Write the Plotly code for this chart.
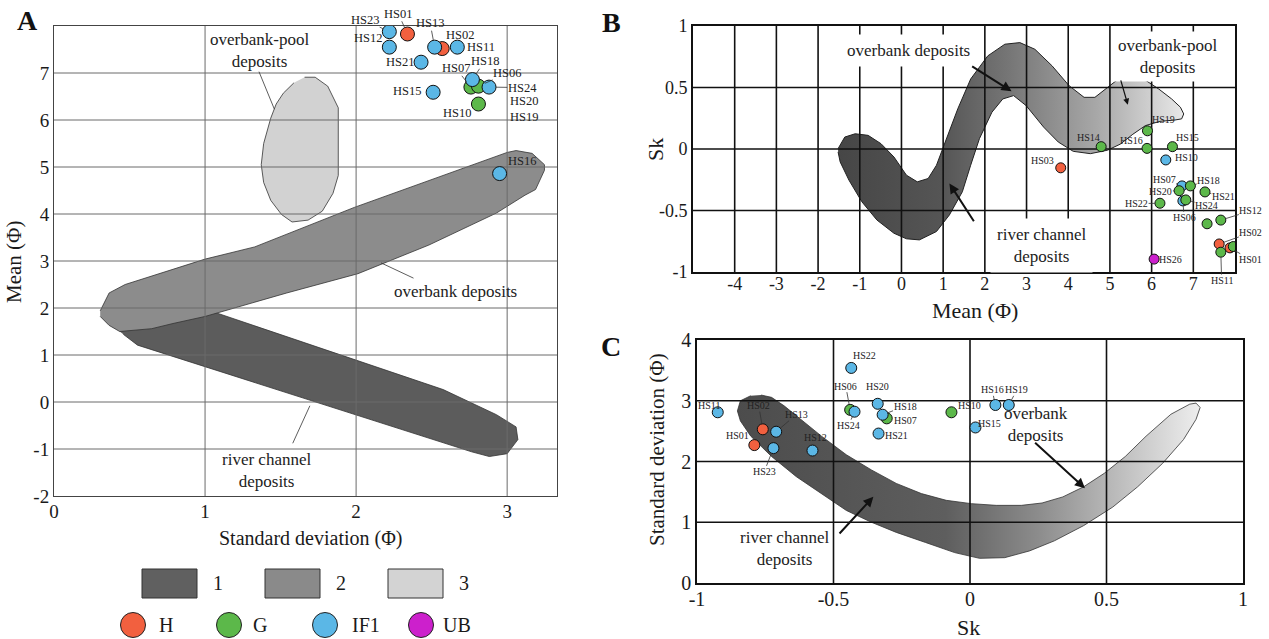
import plotly.graph_objects as go

W, H = 1269, 639
SERIF = "Liberation Serif, Times New Roman, serif"
COLORS = {"H": "#f2603f", "G": "#5cb84a", "IF1": "#5bb7e6", "UB": "#cc20cc"}

# ---------------- Panel A : Standard deviation vs Mean ----------------
A_names = ["HS23", "HS01", "HS12", "HS13", "HS02", "HS11", "HS21", "HS15", "HS07", "HS06", "HS18", "HS24", "HS10", "HS16"]
A_std = [2.22, 2.34, 2.22, 2.52, 2.57, 2.67, 2.43, 2.51, 2.76, 2.81, 2.77, 2.88, 2.81, 2.95]
A_mean = [7.88, 7.83, 7.55, 7.55, 7.52, 7.55, 7.23, 6.59, 6.70, 6.72, 6.86, 6.70, 6.34, 4.86]
A_group = ["IF1", "H", "IF1", "IF1", "H", "IF1", "IF1", "IF1", "G", "G", "IF1", "IF1", "G", "IF1"]
A_lab_x = [2.06, 2.28, 2.08, 2.49, 2.69, 2.83, 2.29, 2.335, 2.66, 3.00, 2.85, 3.10, 2.67, 3.10]
A_lab_y = [8.12, 8.26, 7.74, 8.06, 7.81, 7.55, 7.24, 6.62, 7.10, 6.99, 7.25, 6.69, 6.15, 5.13]
A_leader = [True, True, True, True, False, False, False, False, True, True, True, True, False, False]
A_extra_labels = ["HS20", "HS19"]
A_extra_x = [3.11, 3.11]
A_extra_y = [6.40, 6.06]

A_river_x = [0.435, 1.071, 2.576, 2.929, 3.059, 3.071, 3.0, 2.882, 2.765, 0.553, 0.459]
A_river_y = [1.50, 1.90, 0.265, -0.27, -0.53, -0.80, -1.10, -1.16, -1.06, 1.21, 1.44]
A_over_x = [0.306, 0.365, 0.471, 1.0, 1.329, 1.988, 3.0, 3.059, 3.165, 3.247, 3.247, 3.188, 3.118, 2.929,
            2.482, 2.012, 1.541, 1.0, 0.788, 0.647, 0.435, 0.365, 0.306]
A_over_y = [1.94, 2.32, 2.50, 3.04, 3.30, 4.14, 5.31, 5.35, 5.29, 5.05, 4.93, 4.52, 4.40, 4.02,
            3.34, 2.73, 2.32, 1.82, 1.67, 1.56, 1.50, 1.63, 1.82]
A_pool_x = [1.659, 1.729, 1.812, 1.882, 1.882, 1.847, 1.776, 1.682, 1.576, 1.506, 1.435, 1.388, 1.372,
            1.388, 1.435, 1.471, 1.518, 1.588]
A_pool_y = [6.91, 6.91, 6.72, 6.26, 4.82, 4.44, 4.06, 3.87, 3.83, 3.99, 4.29, 4.67, 5.05,
            5.50, 6.04, 6.34, 6.57, 6.79]
A_xticks = [0, 1, 2, 3]
A_yticks = [-2, -1, 0, 1, 2, 3, 4, 5, 6, 7]
A_xrange = [0, 3.33]
A_yrange = [-2, 8]

# ---------------- Panel B : Mean vs Sk ----------------
B_names = ["HS19", "HS14", "HS16", "HS15", "HS10", "HS03", "HS07", "HS18", "HS20", "HS21", "HS06", "HS24",
           "HS22", "HS12", "HS13", "HS02", "HS23", "HS01", "HS11", "HS26"]
B_mean = [5.90, 4.79, 5.89, 6.50, 6.34, 3.82, 6.73, 6.93, 6.66, 7.28, 6.75, 6.82,
          6.20, 7.66, 7.33, 7.62, 7.96, 7.88, 7.66, 6.06]
B_sk = [0.148, 0.019, 0.005, 0.019, -0.089, -0.153, -0.30, -0.30, -0.339, -0.349, -0.422, -0.414,
        -0.441, -0.578, -0.608, -0.772, -0.793, -0.804, -0.839, -0.895]
B_group = ["G", "G", "G", "G", "IF1", "H", "IF1", "G", "G", "G", "IF1", "G",
           "G", "G", "G", "H", "G", "H", "G", "UB"]
B_lab_x = [6.28, 4.49, 5.52, 6.85, 6.83, 3.39, 6.30, 7.37, 6.22, 7.72, 6.78, 7.32,
           5.64, 8.38, 8.30, 8.38, 8.32, 8.38, 7.68, 6.46]
B_lab_y = [0.237, 0.094, 0.067, 0.094, -0.067, -0.094, -0.247, -0.255, -0.344, -0.390, -0.559, -0.457,
           -0.444, -0.503, -0.597, -0.680, -0.774, -0.90, -1.07, -0.90]
B_leader = [False, False, False, False, False, False, True, True, True, True, True, True,
            True, True, False, True, False, True, True, False]

B_shape_x = [-1.52, -1.36, -1.11, -0.80, -0.49, -0.18, 0.12, 0.38, 0.64, 0.84, 1.05, 1.35, 1.66, 2.07,
             2.48, 2.84, 3.20, 3.61, 4.02, 4.38, 4.64, 4.89, 5.15, 5.51, 5.87, 6.17, 6.48, 6.69, 6.77,
             6.72, 6.55, 6.20, 5.85, 5.55, 5.25, 4.94, 4.53, 4.12, 3.76, 3.41, 2.99, 2.69, 2.43, 2.17,
             1.87, 1.66, 1.46, 1.15, 0.84, 0.43, 0.12, -0.18, -0.59, -0.95, -1.26, -1.47, -1.52]
B_shape_y = [0.003, 0.097, 0.124, 0.111, 0.043, -0.065, -0.213, -0.267, -0.240, -0.132, 0.057, 0.326,
             0.569, 0.757, 0.852, 0.865, 0.811, 0.677, 0.515, 0.420, 0.420, 0.488, 0.555, 0.582, 0.555,
             0.488, 0.407, 0.340, 0.285, 0.245, 0.235, 0.225, 0.19, 0.12, 0.04, -0.01, -0.038, -0.019,
             0.057, 0.178, 0.353, 0.434, 0.407, 0.299, 0.084, -0.132, -0.348, -0.536, -0.671, -0.739,
             -0.730, -0.685, -0.577, -0.429, -0.253, -0.105, -0.024]
B_xticks = [-4, -3, -2, -1, 0, 1, 2, 3, 4, 5, 6, 7]
B_yticks = [-1, -0.5, 0, 0.5, 1]
B_ytext = ["-1", "-0.5", "0", "0.5", "1"]
B_xrange = [-5, 8]
B_yrange = [-1, 1]

# ---------------- Panel C : Sk vs Standard deviation ----------------
C_names = ["HS11", "HS02", "HS13", "HS01", "HS23", "HS12", "HS22", "HS06", "HS24", "HS20", "HS18", "HS07",
           "HS21", "HS10", "HS15", "HS16", "HS19"]
C_sk = [-0.924, -0.759, -0.710, -0.790, -0.720, -0.577, -0.435, -0.439, -0.423, -0.338, -0.320, -0.305,
        -0.335, -0.068, 0.020, 0.093, 0.142]
C_std = [2.81, 2.53, 2.49, 2.27, 2.22, 2.18, 3.54, 2.85, 2.82, 2.95, 2.77, 2.71,
         2.46, 2.81, 2.56, 2.93, 2.93]
C_group = ["IF1", "H", "IF1", "H", "IF1", "IF1", "IF1", "G", "IF1", "IF1", "IF1", "G",
           "IF1", "G", "IF1", "IF1", "IF1"]
C_lab_x = [-0.955, -0.774, -0.637, -0.851, -0.754, -0.567, -0.387, -0.455, -0.445, -0.339, -0.238, -0.238,
           -0.268, -0.003, 0.073, 0.081, 0.172]
C_lab_y = [2.93, 2.92, 2.77, 2.42, 1.83, 2.40, 3.74, 3.24, 2.59, 3.24, 2.91, 2.67,
           2.43, 2.92, 2.63, 3.18, 3.18]
C_leader = [False, True, True, False, True, False, False, True, True, False, True, False,
            False, False, False, True, True]

C_shape_x = [-0.803, -0.841, -0.852, -0.841, -0.803, -0.727, -0.636, -0.544, -0.453, -0.361, -0.270,
             -0.163, -0.056, 0.035, 0.127, 0.218, 0.309, 0.416, 0.523, 0.614, 0.706, 0.782, 0.828,
             0.843, 0.828, 0.805, 0.736, 0.645, 0.569, 0.492, 0.416, 0.340, 0.264, 0.188, 0.096,
             0.005, -0.087, -0.178, -0.270, -0.361, -0.453, -0.544, -0.620, -0.681, -0.727, -0.765]
C_shape_y = [3.083, 3.0, 2.833, 2.667, 2.417, 2.083, 1.75, 1.472, 1.194, 1.0, 0.833,
             0.667, 0.5, 0.406, 0.417, 0.528, 0.694, 0.944, 1.25, 1.583, 1.972, 2.361, 2.694,
             2.889, 2.961, 2.944, 2.778, 2.417, 2.083, 1.806, 1.583, 1.417, 1.317, 1.278, 1.278,
             1.306, 1.361, 1.472, 1.639, 1.861, 2.111, 2.417, 2.694, 2.917, 3.056, 3.094]
C_xticks = [-1, -0.5, 0, 0.5, 1]
C_xtext = ["-1", "-0.5", "0", "0.5", "1"]
C_yticks = [0, 1, 2, 3, 4]
C_xrange = [-1, 1]
C_yrange = [0, 4]

LEGEND_AREAS = ["1", "2", "3"]
LEGEND_AREA_COLORS = ["#606060", "#8a8a8a", "#d3d3d3"]
LEGEND_GROUPS = ["H", "G", "IF1", "UB"]

fig = go.Figure()


def px_x(p):
    return p / W


def px_y(p):
    return 1 - p / H


def grid_trace(xs, ys, xr, yr, xa, ya, color, width):
    gx, gy = [], []
    for v in xs:
        gx += [v, v, None]
        gy += [yr[0], yr[1], None]
    for v in ys:
        gx += [xr[0], xr[1], None]
        gy += [v, v, None]
    return go.Scatter(x=gx, y=gy, mode="lines", line=dict(color=color, width=width),
                      xaxis=xa, yaxis=ya, hoverinfo="skip")


def add_points(names, xs, ys, groups, order, xa, ya, size):
    for g in order:
        idx = [i for i, gg in enumerate(groups) if gg == g]
        if not idx:
            continue
        fig.add_trace(go.Scatter(x=[xs[i] for i in idx], y=[ys[i] for i in idx], mode="markers",
                                 marker=dict(size=size, color=COLORS[g], line=dict(color="#111", width=1)),
                                 xaxis=xa, yaxis=ya, name=g, text=[names[i] for i in idx]))


def add_labels(names, xs, ys, lx, ly, leader, xa, ya, fsize, standoff):
    for n, x, y, tx, ty, ld in zip(names, xs, ys, lx, ly, leader):
        if ld:
            fig.add_annotation(x=x, y=y, ax=tx, ay=ty, xref=xa, yref=ya, axref=xa, ayref=ya,
                               text=n, showarrow=True, arrowhead=0, arrowwidth=0.8, arrowcolor="#333",
                               standoff=standoff, font=dict(family=SERIF, size=fsize, color="#222"),
                               borderpad=0)
        else:
            fig.add_annotation(x=tx, y=ty, xref=xa, yref=ya, text=n, showarrow=False,
                               xanchor="center", yanchor="middle",
                               font=dict(family=SERIF, size=fsize, color="#222"))


# ---------- Panel A ----------
for xs, ys, col in [(A_river_x, A_river_y, "#5c5c5c"), (A_over_x, A_over_y, "#8c8c8c"),
                    (A_pool_x, A_pool_y, "#d2d2d2")]:
    fig.add_trace(go.Scatter(x=xs, y=ys, fill="toself", fillcolor=col, mode="lines",
                             line=dict(color="#333", width=0.8), xaxis="x", yaxis="y", hoverinfo="skip"))
fig.add_trace(grid_trace([1, 2, 3], [-1, 0, 1, 2, 3, 4, 5, 6, 7], A_xrange, A_yrange, "x", "y", "#6a6a6a", 1))
add_points(A_names, A_std, A_mean, A_group, ["G", "H", "IF1"], "x", "y", 14)
add_labels(A_names, A_std, A_mean, A_lab_x, A_lab_y, A_leader, "x", "y", 12.5, 7)
for n, x, y in zip(A_extra_labels, A_extra_x, A_extra_y):
    fig.add_annotation(x=x, y=y, xref="x", yref="y", text=n, showarrow=False,
                       xanchor="center", yanchor="middle",
                       font=dict(family=SERIF, size=12.5, color="#222"))

# region annotations A
A_text = [("overbank-pool<br>deposits", 1.36, 7.48, 1.353, 7.06, 1.459, 6.23),
          ("overbank deposits", 2.66, 2.35, 2.39, 2.62, 2.165, 2.96),
          ("river channel<br>deposits", 1.41, -1.45, 1.576, -0.91, 1.694, -0.08)]
for t, tx, ty, x0, y0, x1, y1 in A_text:
    fig.add_annotation(x=tx, y=ty, xref="x", yref="y", text=t, showarrow=False,
                       xanchor="center", yanchor="middle",
                       font=dict(family=SERIF, size=17, color="#222"))
    fig.add_annotation(x=x1, y=y1, ax=x0, ay=y0, xref="x", yref="y", axref="x", ayref="y", text="",
                       showarrow=True, arrowhead=0, arrowwidth=0.8, arrowcolor="#333")

# ---------- Panel B ----------
fig.add_trace(go.Scatter(x=B_shape_x, y=B_shape_y, fill="toself", mode="lines",
                         fillgradient=dict(type="horizontal",
                                           colorscale=[[0, "#464646"], [0.3, "#555555"], [0.5, "#777777"],
                                                       [0.75, "#a8a8a8"], [1, "#e8e8e8"]]),
                         line=dict(color="#222", width=1), xaxis="x2", yaxis="y2", hoverinfo="skip"))
fig.add_trace(grid_trace(B_xticks, [-0.5, 0, 0.5], B_xrange, B_yrange, "x2", "y2", "#111", 1.6))
add_points(B_names, B_mean, B_sk, B_group, ["H", "IF1", "G", "UB"], "x2", "y2", 10)
add_labels(B_names, B_mean, B_sk, B_lab_x, B_lab_y, B_leader, "x2", "y2", 10, 5)

B_text = [("overbank deposits", 0.17, 0.80, 1.66, 0.68, 2.64, 0.47, 2, 6),
          ("overbank-pool<br>deposits", 6.38, 0.755, 5.25, 0.57, 5.43, 0.36, 1.2, 4),
          ("river channel<br>deposits", 3.35, -0.785, 1.76, -0.60, 1.15, -0.28, 2, 6)]
for t, tx, ty, x0, y0, x1, y1, w, pad in B_text:
    fig.add_annotation(x=tx, y=ty, xref="x2", yref="y2", text=t, showarrow=False,
                       xanchor="center", yanchor="middle", bgcolor="white", borderpad=pad,
                       font=dict(family=SERIF, size=17, color="#222"))
    fig.add_annotation(x=x1, y=y1, ax=x0, ay=y0, xref="x2", yref="y2", axref="x2", ayref="y2", text="",
                       showarrow=True, arrowhead=2, arrowsize=1, arrowwidth=w, arrowcolor="#111")

# ---------- Panel C ----------
fig.add_trace(go.Scatter(x=C_shape_x, y=C_shape_y, fill="toself", mode="lines",
                         fillgradient=dict(type="horizontal",
                                           colorscale=[[0, "#4c4c4c"], [0.45, "#5e5e5e"], [0.65, "#8c8c8c"],
                                                       [0.85, "#c4c4c4"], [1, "#eeeeee"]]),
                         line=dict(color="#333", width=0.8), xaxis="x3", yaxis="y3", hoverinfo="skip"))
fig.add_trace(grid_trace([-0.5, 0, 0.5], [1, 2, 3], C_xrange, C_yrange, "x3", "y3", "#111", 1.6))
add_points(C_names, C_sk, C_std, C_group, ["G", "H", "IF1"], "x3", "y3", 11)
add_labels(C_names, C_sk, C_std, C_lab_x, C_lab_y, C_leader, "x3", "y3", 10, 5)

C_text = [("overbank<br>deposits", 0.241, 2.61, 0.233, 2.33, 0.421, 1.56),
          ("river channel<br>deposits", -0.678, 0.575, -0.483, 0.79, -0.354, 1.42)]
for t, tx, ty, x0, y0, x1, y1 in C_text:
    fig.add_annotation(x=tx, y=ty, xref="x3", yref="y3", text=t, showarrow=False,
                       xanchor="center", yanchor="middle",
                       font=dict(family=SERIF, size=17, color="#222"))
    fig.add_annotation(x=x1, y=y1, ax=x0, ay=y0, xref="x3", yref="y3", axref="x3", ayref="y3", text="",
                       showarrow=True, arrowhead=2, arrowsize=1, arrowwidth=2, arrowcolor="#111")

# ---------- axes ----------
tick_common = dict(showgrid=False, zeroline=False, ticks="", showline=True, mirror=True, automargin=False)
fig.update_layout(
    width=W, height=H, margin=dict(l=0, r=0, t=0, b=0, autoexpand=False),
    plot_bgcolor="white", paper_bgcolor="white", showlegend=False,
    font=dict(family=SERIF, color="#1a1a1a"),
    xaxis=dict(domain=[px_x(54), px_x(557)], anchor="y", range=A_xrange, tickvals=A_xticks,
               ticktext=[str(v) for v in A_xticks], linecolor="#444", linewidth=1,
               tickfont=dict(size=19), ticklabelstandoff=-2, **tick_common),
    yaxis=dict(domain=[px_y(496), px_y(26)], anchor="x", range=A_yrange, tickvals=A_yticks,
               ticktext=[str(v) for v in A_yticks], linecolor="#444", linewidth=1,
               tickfont=dict(size=19), **tick_common),
    xaxis2=dict(domain=[px_x(693), px_x(1235)], anchor="y2", range=B_xrange, tickvals=B_xticks,
                ticktext=[str(v) for v in B_xticks], linecolor="#111", linewidth=1.6,
                tickfont=dict(size=18), ticklabelstandoff=-5, **tick_common),
    yaxis2=dict(domain=[px_y(272), px_y(26)], anchor="x2", range=B_yrange, tickvals=B_yticks,
                ticktext=B_ytext, linecolor="#111", linewidth=1.6,
                tickfont=dict(size=18), **tick_common),
    xaxis3=dict(domain=[px_x(697), px_x(1243)], anchor="y3", range=C_xrange, tickvals=C_xticks,
                ticktext=C_xtext, linecolor="#111", linewidth=1.6,
                tickfont=dict(size=20), ticklabelstandoff=-3, **tick_common),
    yaxis3=dict(domain=[px_y(583), px_y(340)], anchor="x3", range=C_yrange, tickvals=C_yticks,
                ticktext=[str(v) for v in C_yticks], linecolor="#111", linewidth=1.6,
                tickfont=dict(size=20), **tick_common),
)

# axis titles and panel letters
titles = [("Standard deviation (Φ)", 310, 538, 0, 20), ("Mean (Φ)", 14, 262, -90, 21),
          ("Sk", 655, 150, -90, 22), ("Mean (Φ)", 975, 311, 0, 22),
          ("Sk", 968, 627, 0, 22), ("Standard deviation (Φ)", 657, 450, -90, 21)]
for t, x, y, ang, s in titles:
    fig.add_annotation(x=px_x(x), y=px_y(y), xref="paper", yref="paper", text=t, textangle=ang,
                       xanchor="center", yanchor="middle",
                       showarrow=False, font=dict(family=SERIF, size=s, color="#1a1a1a"))
for t, x, y in [("A", 27, 20), ("B", 611, 23), ("C", 611, 346)]:
    fig.add_annotation(x=px_x(x), y=px_y(y), xref="paper", yref="paper", text="<b>%s</b>" % t,
                       xanchor="center", yanchor="middle",
                       showarrow=False, font=dict(family=SERIF, size=28, color="#111"))

# legend (drawn manually)
rect_x0 = [142, 265, 388]
for lab, col, x0 in zip(LEGEND_AREAS, LEGEND_AREA_COLORS, rect_x0):
    fig.add_shape(type="rect", xref="paper", yref="paper", x0=px_x(x0), x1=px_x(x0 + 55),
                  y0=px_y(598), y1=px_y(569), fillcolor=col, line=dict(color="#333", width=1))
    fig.add_annotation(x=px_x(x0 + 76), y=px_y(583), xref="paper", yref="paper", text=lab,
                       xanchor="center", yanchor="middle",
                       showarrow=False, font=dict(family=SERIF, size=20, color="#1a1a1a"))
circ_cx = [133, 229, 325, 421]
text_cx = [166, 260, 366, 457]
for g, cx, tx in zip(LEGEND_GROUPS, circ_cx, text_cx):
    fig.add_shape(type="circle", xref="paper", yref="paper", x0=px_x(cx - 12.5), x1=px_x(cx + 12.5),
                  y0=px_y(625 + 12.5), y1=px_y(625 - 12.5), fillcolor=COLORS[g],
                  line=dict(color="#222", width=1))
    fig.add_annotation(x=px_x(tx), y=px_y(625), xref="paper", yref="paper", text=g,
                       xanchor="center", yanchor="middle",
                       showarrow=False, font=dict(family=SERIF, size=20, color="#1a1a1a"))

fig.write_html("out.html", config={"displayModeBar": False},
               post_script="document.body.style.margin='0';")
